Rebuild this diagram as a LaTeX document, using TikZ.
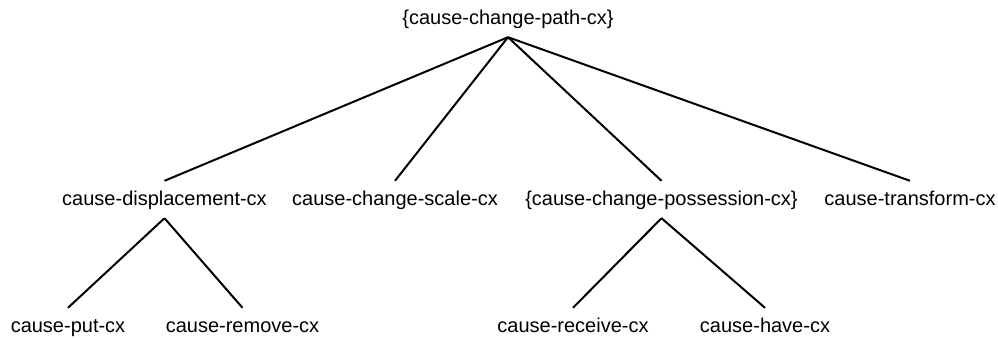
\documentclass[tikz,border=0pt]{standalone}
\usepackage{fontspec}
\setmainfont{Liberation Sans}
\tikzset{
    cxnode/.style={anchor=base, inner xsep=0pt, inner ysep=9pt, text height=15pt, text depth=4pt, font=\fontsize{20}{24}\selectfont},
    link/.style={draw, line width=2pt},
}
\begin{document}
\begin{tikzpicture}[x=1pt, y=-1pt]
    \useasboundingbox (0,0) rectangle (998,338);
    % top
    \node[cxnode] (path) at (508,24) {\{cause-change-path-cx\}};
    % middle row
    \node[cxnode] (displace) at (164.5,205) {cause-displacement-cx};
    \node[cxnode] (scale) at (395,205) {cause-change-scale-cx};
    \node[cxnode] (possess) at (661.5,205) {\{cause-change-possession-cx\}};
    \node[cxnode] (transform) at (910,205) {cause-transform-cx};
    % bottom row
    \node[cxnode] (put) at (68,332) {cause-put-cx};
    \node[cxnode] (remove) at (242.5,332) {cause-remove-cx};
    \node[cxnode] (receive) at (573,332) {cause-receive-cx};
    \node[cxnode] (have) at (765,332) {cause-have-cx};
    \foreach \kid in {displace, scale, possess, transform}
        \draw[link] (path.south) -- (\kid.north);
    \draw[link] (displace.south) -- (put.north);
    \draw[link] (displace.south) -- (remove.north);
    \draw[link] (possess.south) -- (receive.north);
    \draw[link] (possess.south) -- (have.north);
\end{tikzpicture}
\end{document}
